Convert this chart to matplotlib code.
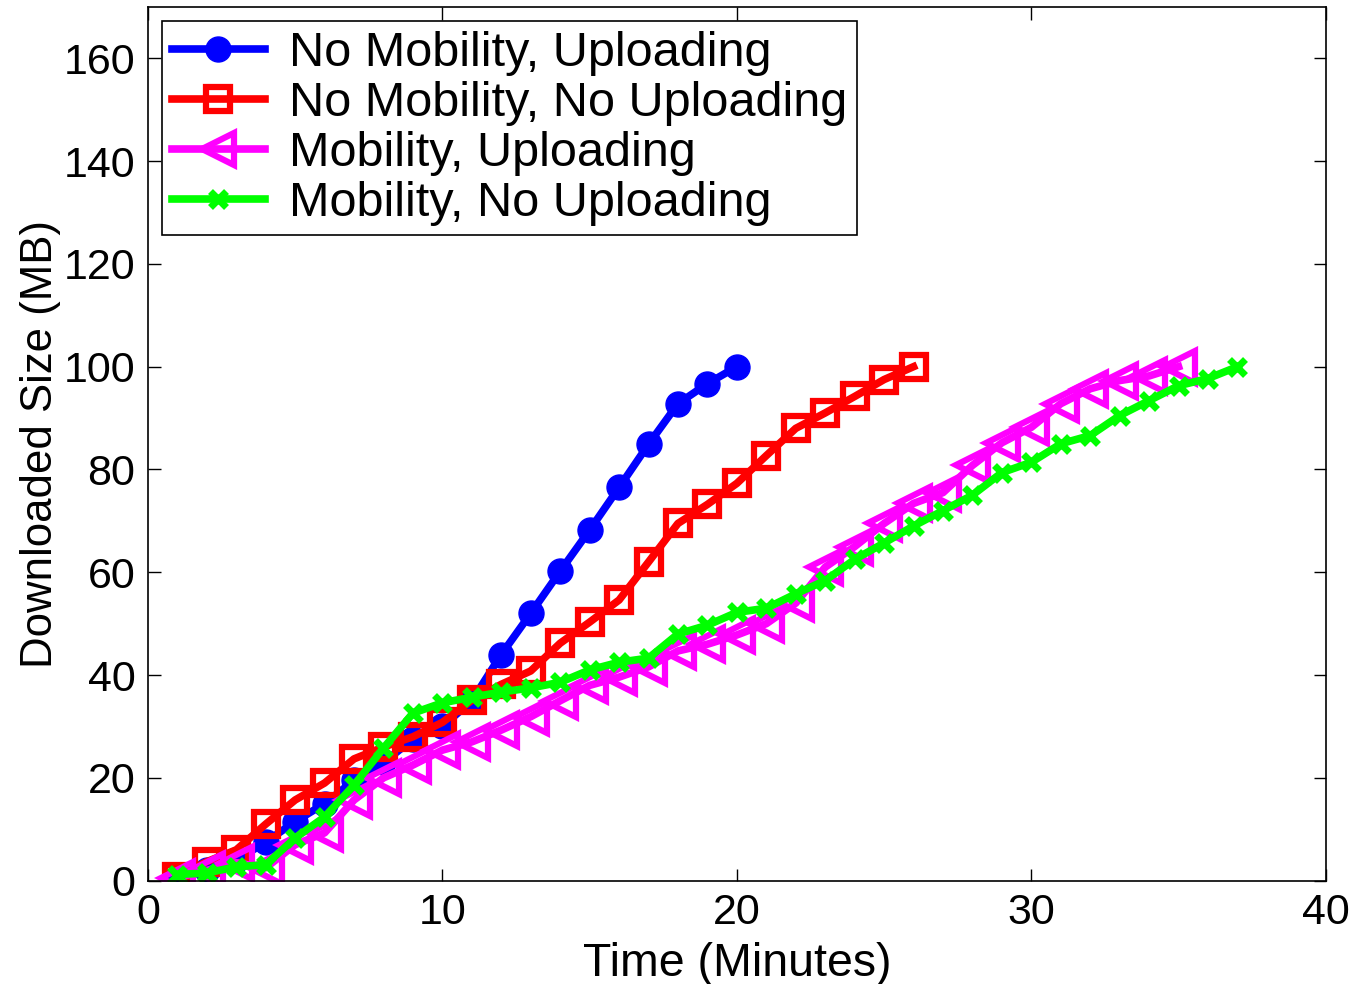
# downloaded size over time for the four mobility / uploading setups

import numpy as np
import matplotlib
matplotlib.use("Agg")
import matplotlib.pyplot as plt

plt.rcParams['font.family'] = ['Liberation Sans', 'DejaVu Sans']

# time axis (minutes) for each run
time_nm_up = list(range(1, 21))
time_nm_noup = list(range(1, 27))
time_m_up = list(range(1, 36))
time_m_noup = list(range(1, 38))

# downloaded size (MB)
size_nm_up = [0.5, 2, 4, 7.5, 11.5, 15, 19.5, 23, 27.5, 30,
              35, 44, 52, 60.2, 68.2, 76.5, 84.9, 92.8, 96.7, 100]
size_nm_noup = [0.8, 3.7, 6, 11, 15.7, 19, 23.7, 26, 28, 30.8,
                35.1, 38.2, 40.8, 46.2, 50.3, 54.6, 62, 69.5, 73.2, 77.3,
                82.7, 88, 91, 94.2, 97.5, 100]
size_m_up = [0.6, 2, 3.5, 2.5, 7, 9.3, 15.7, 20, 22.5, 25.4,
             27, 29.3, 31.9, 35, 38, 39.6, 41.6, 44.7, 46, 47.8,
             50, 54, 61, 65, 69.5, 73.4, 75.5, 80.8, 85.2, 88.2,
             92.8, 95.7, 97.3, 98.2, 100]
size_m_noup = [1.2, 1.5, 2.7, 3.1, 8.3, 12.4, 18.6, 25.8, 32.6, 34.6,
               35.7, 36.7, 37.5, 38.6, 41, 42.5, 43.3, 48, 49.7, 52.2,
               53, 55.8, 58.4, 62.5, 65.7, 69, 72, 75, 79.4, 81.4,
               85, 86.6, 90.5, 93.4, 96.3, 97.7, 100]

labels = ["No Mobility, Uploading", "No Mobility, No Uploading",
          "Mobility, Uploading", "Mobility, No Uploading"]

fig = plt.figure(figsize=(13.57, 9.84), dpi=100)
ax = fig.add_axes([0.109, 0.105, 0.868, 0.888])

lw = 5.5
ax.plot(time_nm_up, size_nm_up, color=(0, 0, 1), lw=lw, marker='o',
        ms=18, mfc=(0, 0, 1), mec=(0, 0, 1), label=labels[0])
ax.plot(time_nm_noup, size_nm_noup, color=(1, 0, 0), lw=lw, marker='s',
        ms=17, mfc='none', mec=(1, 0, 0), mew=4.5, label=labels[1])
ax.plot(time_m_up, size_m_up, color=(1, 0, 1), lw=lw, marker='<',
        ms=23, mfc='none', mec=(1, 0, 1), mew=4.5, label=labels[2])
ax.plot(time_m_noup, size_m_noup, color=(0, 1, 0), lw=lw, marker='x',
        ms=12, mec=(0, 1, 0), mew=5, label=labels[3])

ax.set_xlim(0, 40)
ax.set_ylim(0, 170)
ax.set_xticks(np.arange(0, 41, 10))
ax.set_yticks(np.arange(0, 161, 20))
ax.tick_params(direction='in', length=9, width=1, labelsize=31,
               top=True, right=True, pad=9)
for side in ax.spines.values():
    side.set_linewidth(1.2)

ax.set_xlabel("Time (Minutes)", fontsize=33.5, labelpad=6)
ax.set_ylabel("Downloaded Size (MB)", fontsize=31.5, labelpad=2)

leg = ax.legend(loc='upper left', fontsize=35, numpoints=1, handlelength=1.9,
                handletextpad=0.5, borderpad=0.2, labelspacing=0.1,
                borderaxespad=0.3, fancybox=False, framealpha=1,
                edgecolor='black')
leg.get_frame().set_linewidth(1.2)

fig.savefig("out.png", dpi=100)
